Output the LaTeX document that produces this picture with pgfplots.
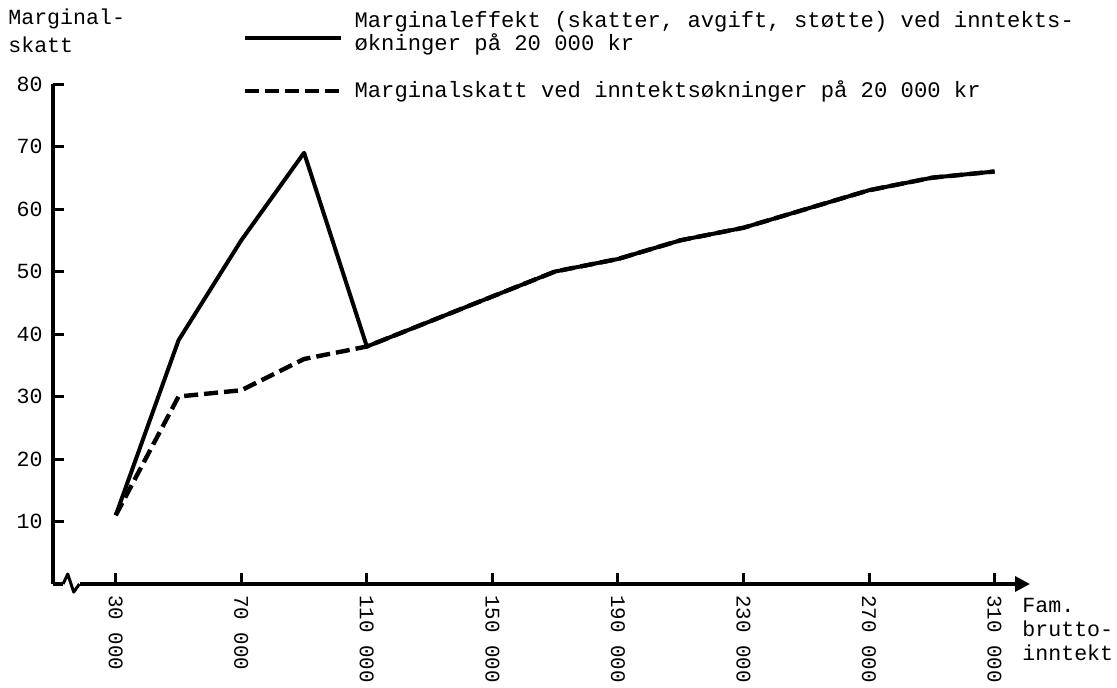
\documentclass[border=0pt]{standalone}
\usepackage{fontspec}
\setmainfont{Liberation Mono}
\usepackage{pgfplots}
\pgfplotsset{compat=1.18}
\usetikzlibrary{arrows.meta}
\pgfplotsset{
  solidleg/.style={legend image code/.code={\draw[##1] (0pt,-3pt) -- (48pt,-3pt);}},
  dashleg/.style={legend image code/.code={\draw[##1] (0pt,0pt) -- (47pt,0pt);}},
}
\begin{document}
\begin{tikzpicture}
\begin{axis}[
  at={(0,0)}, anchor=south west,
  scale only axis, width=488.5pt, height=250pt,
  xmin=10000, xmax=321300, ymin=0, ymax=80,
  axis lines=left,
  x axis line style={line width=1.6pt, -{Triangle[length=7.5pt,width=7.5pt]}},
  y axis line style={line width=1.6pt, -},
  tick align=inside,
  major tick length=5.5pt,
  tick style={line width=1.5pt, black},
  xtick={30000,70000,110000,150000,190000,230000,270000,310000},
  xticklabels={30 000,70 000,110 000,150 000,190 000,230 000,270 000,310 000},
  ytick={10,20,30,40,50,60,70,80},
  scaled x ticks=false,
  /pgf/number format/assume math mode=true,
  tick label style={font=\fontsize{10.8}{12}\selectfont},
  xticklabel style={rotate=-90, anchor=west, inner sep=0pt, font=\fontsize{10.4}{12}\selectfont},
  xticklabel shift=5.5pt,
  yticklabel style={inner sep=0pt},
  yticklabel shift=5pt,
  clip=false,
  ylabel={Marginal-\\skatt},
  ylabel style={rotate=-90, at={(axis description cs:-0.0461,1.152)}, anchor=north west, align=left, inner sep=0pt, font=\fontsize{10.8}{14}\selectfont},
  xlabel={Fam.\\brutto-\\inntekt},
  xlabel style={at={(axis description cs:0.9918,-0.028)}, anchor=north west, align=left, inner sep=0pt, font=\fontsize{10.8}{12}\selectfont},
  legend cell align=left,
  legend style={at={(axis description cs:0.1934,1.154)}, anchor=north west, draw=none, fill=none, inner sep=0pt,
    font=\fontsize{11.1}{11.5}\selectfont, row sep=9.75pt, column sep=4pt,
    nodes={align=left, inner sep=2pt}},
]
\addplot[black, line width=2pt, line join=round, solidleg] coordinates {
  (30000,11) (50000,39) (70000,55) (90000,69) (110000,38)
  (130000,42) (150000,46) (170000,50) (190000,52) (210000,55)
  (230000,57) (250000,60) (270000,63) (290000,65) (310000,66)
};
\addlegendentry{Marginaleffekt (skatter, avgift, støtte) ved inntekts-\\økninger på 20 000 kr}
\addplot[black, line width=2.2pt, line join=round, dash pattern=on 7pt off 3pt, dashleg] coordinates {
  (30000,11) (50000,30) (70000,31) (90000,36) (110000,38)
  (130000,42) (150000,46) (170000,50) (190000,52) (210000,55)
  (230000,57) (250000,60) (270000,63) (290000,65) (310000,66)
};
\addlegendentry{Marginalskatt ved inntektsøkninger på 20 000 kr}
\draw[line width=1.6pt, white] (axis cs:13300,0) -- (axis cs:18600,0);
\draw[line width=1.5pt, line join=round] (axis cs:13200,0) -- (axis cs:14700,1.6) -- (axis cs:16600,-1.3) -- (axis cs:18400,0);
\end{axis}
\pgfresetboundingbox
\useasboundingbox (-26.5pt,-51.5pt) rectangle (532pt,292pt);
\end{tikzpicture}
\end{document}
